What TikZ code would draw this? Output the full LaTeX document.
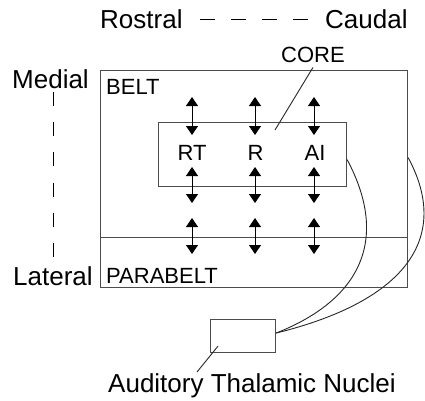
\documentclass[tikz,border=0pt]{standalone}
\usepackage{fontspec}
\setmainfont{Liberation Sans}
\usetikzlibrary{arrows.meta, calc}
\tikzset{
  region/.style = {rectangle, draw=black!70, line width=1.1pt, inner sep=0pt, anchor=north west},
  biglabel/.style = {font=\fontsize{26}{30}\selectfont, inner sep=0pt, anchor=base west},
  boxlabel/.style = {font=\fontsize{22}{26}\selectfont, inner sep=0pt, anchor=base west},
  fieldlabel/.style = {boxlabel, anchor=base},
  link/.style = {line width=0.9pt, {Triangle[width=12pt,length=9pt]}-{Triangle[width=12pt,length=9pt]}},
  wire/.style = {line width=0.9pt, black!85},
  axis/.style = {line width=0.9pt}
}

\begin{document}
\begin{tikzpicture}[x=1pt, y=-1pt]
    \useasboundingbox (0,0) rectangle (425,400);
    \node[region, minimum width=307pt, minimum height=167pt] (belt) at (100,70) {};
    \node[region, minimum width=307pt, minimum height=50pt] (parabelt) at (100,237) {};
    \node[region, minimum width=188pt, minimum height=64pt] (core) at (158,122) {};
    \node[region, minimum width=65pt, minimum height=33pt] (thal) at (210,319) {};

    \node[biglabel] (rostral) at (100,28) {Rostral};
    \node[biglabel] (caudal) at (325,28) {Caudal};
    \node[biglabel] (medial) at (12,88) {Medial};
    \node[biglabel] (lateral) at (13,285) {Lateral};
    \node[biglabel] (nuclei) at (108,392) {Auditory Thalamic Nuclei};

    \node[boxlabel] (beltlbl) at (106,94) {BELT};
    \node[boxlabel] (parabeltlbl) at (106,283) {PARABELT};
    \node[boxlabel] (corelbl) at (281,62) {CORE};
    \node[fieldlabel] (rt) at (192,160) {RT};
    \node[fieldlabel] (r) at (255.5,160) {R};
    \node[fieldlabel] (ai) at (315,160) {AI};

    \coordinate (rc) at (200,19);
    \coordinate (cc) at (308,19);
    \coordinate (mc) at (53,92);
    \coordinate (lc) at (53,257);
    \draw[axis, dash pattern=on 15pt off 16pt] (rc) -- (cc);
    \draw[axis, dash pattern=on 14pt off 16.2pt] (mc) -- (lc);

    \foreach \n/\x in {rt/192, r/255, ai/314} {
      \coordinate (\n a) at (\x,97);
      \coordinate (\n b) at (\x,135);
      \coordinate (\n c) at (\x,167);
      \coordinate (\n d) at (\x,203);
      \coordinate (\n e) at (\x,218);
      \coordinate (\n f) at (\x,254);
      \draw[link] (\n a) -- (\n b);
      \draw[link] (\n c) -- (\n d);
      \draw[link] (\n e) -- (\n f);
    }

    \coordinate (corept) at (275,130);
    \draw[wire] ($(corelbl.south)+(0,5)$) -- (corept);
    \coordinate (thalpt) at (197,372);
    \draw[wire] ($(thal.south west)+(8,-7)$) -- (thalpt);

    \draw[wire] ($(core.east)+(0,5)$) .. controls (390,240) and (360,300) .. ($(thal.east)+(0,-3)$);
    \draw[wire] ($(belt.east)+(0,3.5)$) .. controls (450,235) and (410,300) .. ($(thal.east)+(0,-3)$);
\end{tikzpicture}
\end{document}
